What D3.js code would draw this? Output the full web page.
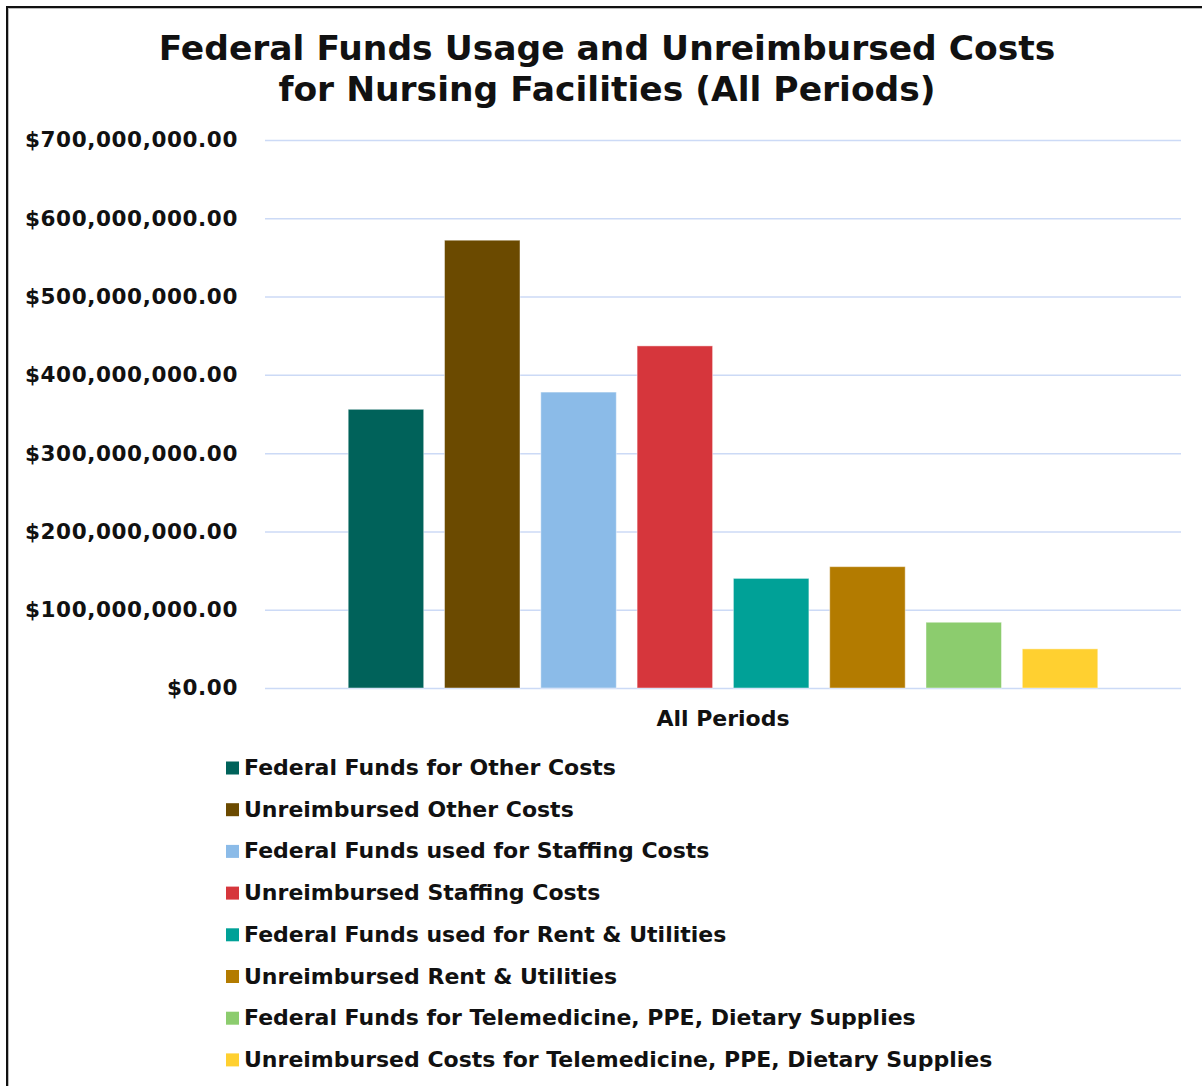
<!DOCTYPE html>
<html>
<head>
<meta charset="utf-8">
<script src="https://cdn.jsdelivr.net/npm/d3@7"></script>
<style>
  html, body { margin: 0; padding: 0; background: #fff; }
  svg { display: block; }
  text { font-family: "DejaVu Sans", Verdana, sans-serif; font-weight: bold; fill: #111; }
</style>
</head>
<body>
<script>
// Chart data
const category = "All Periods";
const seriesNames = [
  "Federal Funds for Other Costs",
  "Unreimbursed Other Costs",
  "Federal Funds used for Staffing Costs",
  "Unreimbursed Staffing Costs",
  "Federal Funds used for Rent & Utilities",
  "Unreimbursed Rent & Utilities",
  "Federal Funds for Telemedicine, PPE, Dietary Supplies",
  "Unreimbursed Costs for Telemedicine, PPE, Dietary Supplies"
];
const seriesValues = [356000000, 572000000, 378000000, 437000000, 140000000, 155000000, 84000000, 50000000];
const seriesColors = ["#00625a", "#6b4a00", "#8bbbe8", "#d6363c", "#00a197", "#b37b00", "#8ccc6e", "#ffd030"];
const yTicks = [0, 100000000, 200000000, 300000000, 400000000, 500000000, 600000000, 700000000];
const titleLines = ["Federal Funds Usage and Unreimbursed Costs", "for Nursing Facilities (All Periods)"];

const W = 1202, H = 1086;
const svg = d3.select("body").append("svg").attr("width", W).attr("height", H);

// Frame (top and left edges)
svg.append("line").attr("x1", 7).attr("x2", W).attr("y1", 7).attr("y2", 7)
  .attr("stroke", "#111").attr("stroke-width", 2);
svg.append("line").attr("x1", 7).attr("x2", 7).attr("y1", 6).attr("y2", H)
  .attr("stroke", "#111").attr("stroke-width", 2);
svg.append("line").attr("x1", 8).attr("x2", W).attr("y1", 8.5).attr("y2", 8.5)
  .attr("stroke", "#bbb").attr("stroke-width", 1);
svg.append("line").attr("x1", 8.5).attr("x2", 8.5).attr("y1", 8).attr("y2", H)
  .attr("stroke", "#bbb").attr("stroke-width", 1);

// Title
const title = svg.append("g");
title.selectAll("text").data(titleLines).join("text")
  .attr("x", 607).attr("y", (d, i) => 60 + i * 41)
  .attr("text-anchor", "middle")
  .style("font-size", "34.5px")
  .text(d => d);

// Scales
const plot = { left: 265, right: 1181, top: 140, bottom: 688 };
const y = d3.scaleLinear().domain([0, 700000000]).range([plot.bottom, plot.top]);
const x = d3.scaleBand().domain(seriesNames).range([plot.left, plot.right])
  .paddingInner(0.216).paddingOuter(0.864);

// Gridlines and value labels
const fmt = d => "$" + d3.format(",.2f")(d);
const yAxis = d3.axisLeft(y).tickValues(yTicks).tickFormat(fmt)
  .tickSize(-(plot.right - plot.left)).tickPadding(27);
const gy = svg.append("g").attr("transform", `translate(${plot.left},0)`).call(yAxis);
gy.select(".domain").remove();
gy.selectAll(".tick line").attr("stroke", "#ccdaf6").attr("stroke-width", 1.5);
gy.selectAll(".tick text").style("font-size", "21.5px").attr("fill", "#111")
  .style("letter-spacing", "0.6px")
  .style("font-family", "'DejaVu Sans', Verdana, sans-serif").style("font-weight", "bold");

// Bars
svg.append("g").selectAll("rect").data(seriesNames).join("rect")
  .attr("x", d => x(d))
  .attr("y", (d, i) => y(seriesValues[i]))
  .attr("width", x.bandwidth())
  .attr("height", (d, i) => y(0) - y(seriesValues[i]))
  .attr("fill", (d, i) => seriesColors[i])
  .attr("stroke", "rgba(255,255,255,0.45)")
  .attr("stroke-width", 1);

// Category label
svg.append("text").attr("x", (plot.left + plot.right) / 2).attr("y", 726)
  .attr("text-anchor", "middle").style("font-size", "22px").text(category);

// Legend
const legend = svg.append("g");
const rows = legend.selectAll("g").data(seriesNames).join("g")
  .attr("transform", (d, i) => `translate(226,${767 + i * 41.7})`);
rows.append("rect").attr("x", 0).attr("y", -5.5).attr("width", 13).attr("height", 13)
  .attr("fill", (d, i) => seriesColors[i]);
rows.append("text").attr("x", 18).attr("y", 8).style("font-size", "22px").text(d => d);
</script>
</body>
</html>
